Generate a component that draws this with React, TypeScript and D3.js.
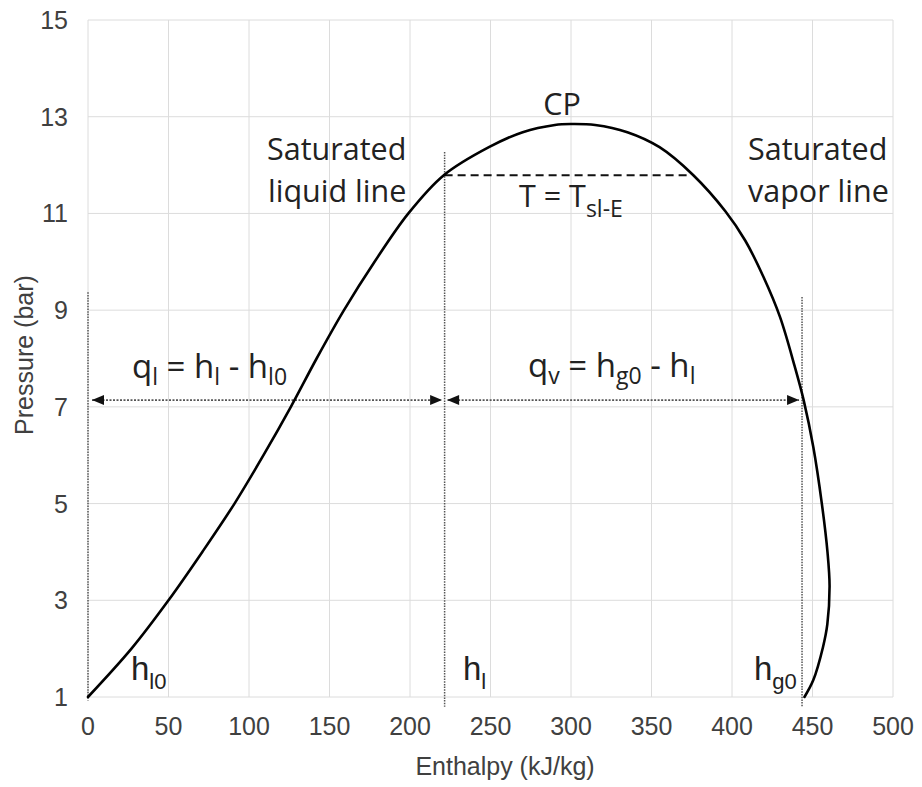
import React from "react";
import * as d3 from "d3";

// Saturation dome (enthalpy kJ/kg, pressure bar)
const satH = [0, 27, 50, 71, 91, 109, 126, 142, 159, 178, 199, 221, 249, 270, 290, 300, 315, 335, 355, 376, 396, 408.2, 419.5, 429.8, 439, 444.5, 450.5, 455.8, 459.3, 460.6, 459.2, 456.5, 450.5, 445];
const satP = [1, 2, 3, 4, 5, 6, 7, 8, 9, 10, 11, 11.79, 12.37, 12.68, 12.83, 12.85, 12.83, 12.68, 12.37, 11.79, 11.04, 10.44, 9.69, 8.86, 7.83, 7.14, 6.17, 5, 4, 3.3, 2.5, 2.03, 1.35, 1];

const xTicks = [0, 50, 100, 150, 200, 250, 300, 350, 400, 450, 500];
const yTicks = [1, 3, 5, 7, 9, 11, 13, 15];

// annotation values
const hl0 = 0;
const hl = 221.5;
const hg0 = 443.5;
const hl0Top = 9.37;
const hlTop = 12.27;
const hg0Top = 9.27;
const guideBottom = 0.8;
const arrowP = 7.14;
const tslP = 11.79;
const tslEnd = 372;

const W = 922;
const H = 787;

export default function App() {
  const x = d3.scaleLinear().domain([0, 500]).range([88, 893]);
  const y = d3.scaleLinear().domain([1, 15]).range([697, 20]);
  const pts: [number, number][] = satH.map((h, i) => [x(h), y(satP[i])]);
  const line = d3.line().curve(d3.curveCatmullRom.alpha(0.5));
  const dome = line(pts) || "";

  const tickFont = "'Liberation Sans', Arial, sans-serif";
  const annFont = "'Open Sans', sans-serif";
  const gray = "#404040";
  const dot = "#555";

  const ay = y(arrowP);
  const head = (tipX: number, dir: number) => {
    const L = 12, hw = 5;
    return `M${tipX},${ay} L${tipX - dir * L},${ay - hw} L${tipX - dir * L},${ay + hw} Z`;
  };

  return (
    <svg width={W} height={H} style={{ position: "absolute", left: 0, top: 0, background: "#fff" }}>
      {/* grid */}
      {xTicks.map((t) => (
        <line key={"gx" + t} x1={x(t)} x2={x(t)} y1={y(15)} y2={y(1)} stroke="#dcdcdc" strokeWidth={1} />
      ))}
      {yTicks.map((t) => (
        <line key={"gy" + t} x1={x(0)} x2={x(500)} y1={y(t)} y2={y(t)} stroke="#dcdcdc" strokeWidth={1} />
      ))}
      {/* tick labels */}
      {xTicks.map((t) => (
        <text key={"tx" + t} x={x(t)} y={735} textAnchor="middle" fontFamily={tickFont} fontSize={25} fill={gray}>
          {t}
        </text>
      ))}
      {yTicks.map((t) => (
        <text key={"ty" + t} x={68} y={y(t)} dy="0.36em" textAnchor="end" fontFamily={tickFont} fontSize={25} fill={gray}>
          {t}
        </text>
      ))}
      {/* axis titles */}
      <text x={505} y={775} textAnchor="middle" fontFamily={tickFont} fontSize={25} fill={gray}>
        Enthalpy (kJ/kg)
      </text>
      <text transform={`translate(33,355) rotate(-90)`} textAnchor="middle" fontFamily={tickFont} fontSize={25} fill={gray}>
        Pressure (bar)
      </text>

      {/* guide lines */}
      <line x1={x(hl0)} x2={x(hl0)} y1={y(hl0Top)} y2={y(0.93)} stroke={dot} strokeWidth={1.5} strokeDasharray="1.5,1.2" />
      <line x1={x(hl)} x2={x(hl)} y1={y(hlTop)} y2={y(guideBottom)} stroke={dot} strokeWidth={1.5} strokeDasharray="1.5,1.2" />
      <line x1={x(hg0)} x2={x(hg0)} y1={y(hg0Top)} y2={y(guideBottom)} stroke={dot} strokeWidth={1.5} strokeDasharray="1.5,1.2" />

      {/* arrows */}
      <line x1={x(hl0) + 4} x2={x(hl) - 3} y1={ay} y2={ay} stroke={dot} strokeWidth={1.6} strokeDasharray="2,1.5" />
      <line x1={x(hl) + 3} x2={x(hg0) - 3} y1={ay} y2={ay} stroke={dot} strokeWidth={1.6} strokeDasharray="2,1.5" />
      <path d={head(x(hl0) + 4, -1)} fill="#111" />
      <path d={head(x(hl) - 2.5, 1)} fill="#111" />
      <path d={head(x(hl) + 2.5, -1)} fill="#111" />
      <path d={head(x(hg0) - 3, 1)} fill="#111" />

      {/* isotherm dashed */}
      <line x1={x(hl)} x2={x(tslEnd)} y1={y(tslP)} y2={y(tslP)} stroke="#111" strokeWidth={2} strokeDasharray="8,5" />

      {/* dome */}
      <path d={dome} fill="none" stroke="#000" strokeWidth={2.6} strokeLinejoin="round" strokeLinecap="round" />

      {/* annotations */}
      <g fontFamily={annFont} fill="#222">
        <text x={267} y={160} fontSize={30.5}>Saturated</text>
        <text x={268} y={202} fontSize={30.5}>liquid line</text>
        <text x={748} y={160} fontSize={30.5}>Saturated</text>
        <text x={748} y={202} fontSize={30.5}>vapor line</text>
        <text x={562} y={115} fontSize={30.5} textAnchor="middle">CP</text>
        <text x={519} y={207} fontSize={30.5}>
          T = T<tspan fontSize={23} dy={10}>sl-E</tspan>
        </text>
        <text x={132} y={378} fontSize={33}>
          q<tspan fontSize={23} dy={7}>l</tspan>
          <tspan dy={-7}> = h</tspan>
          <tspan fontSize={23} dy={7}>l</tspan>
          <tspan dy={-7}> - h</tspan>
          <tspan fontSize={23} dy={7}>l0</tspan>
        </text>
        <text x={528} y={377} fontSize={33}>
          q<tspan fontSize={23} dy={7}>v</tspan>
          <tspan dy={-7}> = h</tspan>
          <tspan fontSize={23} dy={7}>g0</tspan>
          <tspan dy={-7}> - h</tspan>
          <tspan fontSize={23} dy={7}>l</tspan>
        </text>
      </g>
      <g fontFamily={tickFont} fill="#222">
        <text x={131} y={680} fontSize={33}>
          h<tspan fontSize={22} dy={9}>l0</tspan>
        </text>
        <text x={463} y={680} fontSize={33}>
          h<tspan fontSize={22} dy={9}>l</tspan>
        </text>
        <text x={754} y={680} fontSize={33}>
          h<tspan fontSize={22} dy={9}>g0</tspan>
        </text>
      </g>
    </svg>
  );
}
